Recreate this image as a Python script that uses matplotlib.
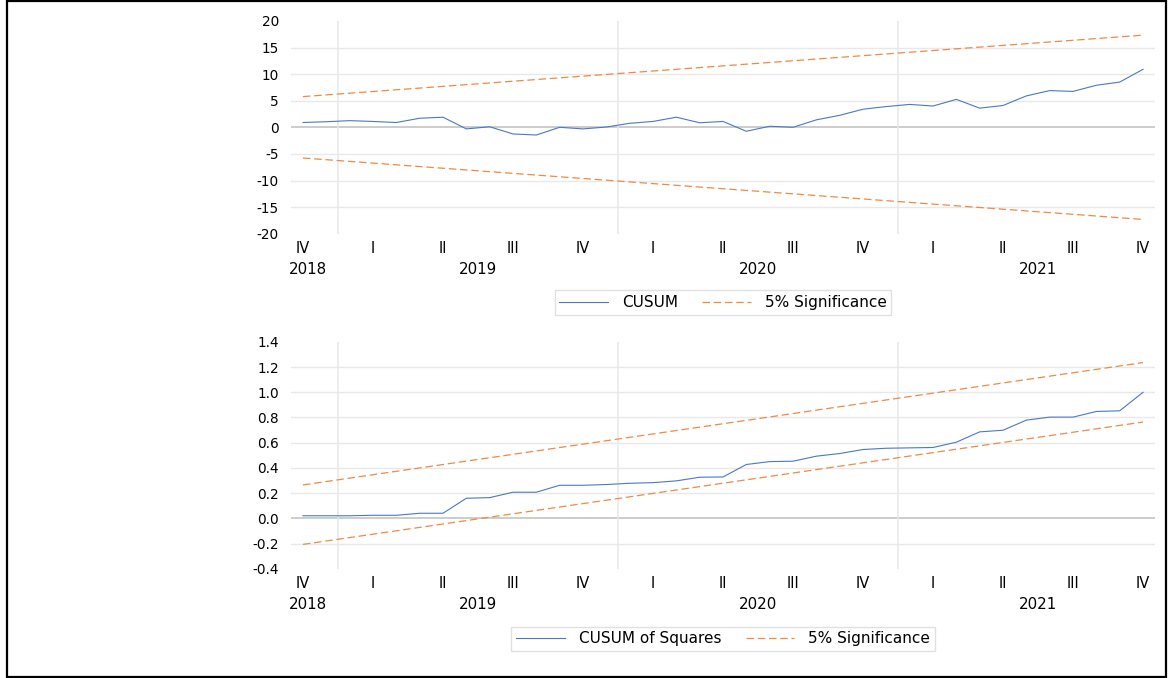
import numpy as np
import matplotlib
matplotlib.use('Agg')
import matplotlib.pyplot as plt
from matplotlib.patches import Rectangle

# monthly observations, Nov 2018 .. Nov 2021 (37 points)
cusum = [0.9, 1.05, 1.25, 1.1, 0.9, 1.7, 1.9, -0.3, 0.1, -1.25, -1.45, 0.0, -0.3,
         0.05, 0.75, 1.1, 1.9, 0.85, 1.1, -0.75, 0.2, 0.0, 1.4, 2.25, 3.4, 3.9,
         4.3, 4.0, 5.25, 3.6, 4.1, 5.9, 6.9, 6.75, 7.9, 8.5, 10.9]
cusum_band = [5.77, 17.32]          # 5% bound at first and last obs

cusum_sq = [0.02, 0.02, 0.02, 0.024, 0.024, 0.04, 0.04, 0.159, 0.164, 0.207, 0.207,
            0.262, 0.262, 0.268, 0.278, 0.283, 0.297, 0.326, 0.328, 0.427, 0.45,
            0.453, 0.493, 0.514, 0.546, 0.556, 0.559, 0.562, 0.604, 0.686, 0.699,
            0.779, 0.803, 0.803, 0.848, 0.853, 1.0]
cusum_sq_upper = [0.265, 1.236]
cusum_sq_lower = [-0.207, 0.764]

quarter_labels = ['IV', 'I', 'II', 'III', 'IV', 'I', 'II', 'III', 'IV', 'I', 'II', 'III', 'IV']
years = ['2018', '2019', '2020', '2021']
year_pos = [0.2, 7.5, 19.5, 31.5]
year_breaks = [1.5, 13.5, 25.5]

blue = '#4A78C6'
orange = '#EE8A45'
grid_c = '#E8E8E8'
zero_c = '#C4C4C4'

W, H = 1169, 678
fig = plt.figure(figsize=(W / 100, H / 100), dpi=100)


def ax_at(x0, x1, ytop, ybot):
    return fig.add_axes([x0 / W, 1 - ybot / H, (x1 - x0) / W, (ybot - ytop) / H])


def style(ax, ylim, yticks, fmt, gridvals):
    n = len(cusum)
    x = np.arange(n)
    ax.set_xlim(-0.5, n - 0.5)
    ax.set_ylim(*ylim)
    for s in ax.spines.values():
        s.set_visible(False)
    for g in gridvals:
        ax.axhline(g, color=grid_c, lw=1.0, zorder=0)
    ax.axhline(0, color=zero_c, lw=1.2, zorder=0)
    for b in year_breaks:
        ax.axvline(b, color=grid_c, lw=1.1, zorder=0)
    ax.set_yticks(yticks)
    ax.set_yticklabels([fmt.format(v) for v in yticks], fontsize=9.8)
    ax.set_xticks(x[::3])
    ax.set_xticklabels(quarter_labels, fontsize=10.5)
    ax.tick_params(length=0, axis='y', pad=9)
    ax.tick_params(length=0, axis='x', pad=5)
    for yr, p in zip(years, year_pos):
        ax.annotate(yr, xy=(p, 0), xycoords=('data', 'axes fraction'),
                    xytext=(0, -25.5), textcoords='offset points',
                    ha='center', va='center', fontsize=10.8)
    return x


# top panel: CUSUM
ax1 = ax_at(291.3, 1154.7, 20.9, 233.7)
x = style(ax1, (-20, 20), np.arange(-20, 21, 5), '{:.0f}',
          [-15, -10, -5, 5, 10, 15])
ax1.plot(x, cusum, color=blue, lw=0.8, label='CUSUM')
ends = [x[0], x[-1]]
ax1.plot(ends, cusum_band, color=orange, lw=0.9, dashes=(6, 3), label='5% Significance')
ax1.plot(ends, [-v for v in cusum_band], color=orange, lw=0.9, dashes=(6, 3))

# bottom panel: CUSUM of squares
ax2 = ax_at(291.3, 1154.7, 341.9, 568.7)
style(ax2, (-0.4, 1.4), np.round(np.arange(-0.4, 1.41, 0.2), 1), '{:.1f}',
      [-0.2, 0.2, 0.4, 0.6, 0.8, 1.0, 1.2])
ax2.plot(x, cusum_sq, color=blue, lw=0.8, label='CUSUM of Squares')
ax2.plot(ends, cusum_sq_upper, color=orange, lw=0.9, dashes=(6, 3), label='5% Significance')
ax2.plot(ends, cusum_sq_lower, color=orange, lw=0.9, dashes=(6, 3))

for ax, cy in [(ax1, 302.5), (ax2, 639)]:
    h, l = ax.get_legend_handles_labels()
    leg = fig.legend(h, l, loc='center', bbox_to_anchor=(723 / W, 1 - cy / H),
                     ncol=2, fontsize=11, frameon=True, fancybox=False,
                     handlelength=3.2, columnspacing=1.6, borderpad=0.3,
                     handletextpad=0.9, borderaxespad=0)
    leg.get_frame().set_edgecolor('#D9D9D9')
    leg.get_frame().set_linewidth(1.0)

# outer border
fig.patches.append(Rectangle((7 / W, 1 / H), 1159 / W, 676 / H, transform=fig.transFigure,
                             fill=False, edgecolor='black', lw=1.6))

fig.savefig('out.png', dpi=100)
